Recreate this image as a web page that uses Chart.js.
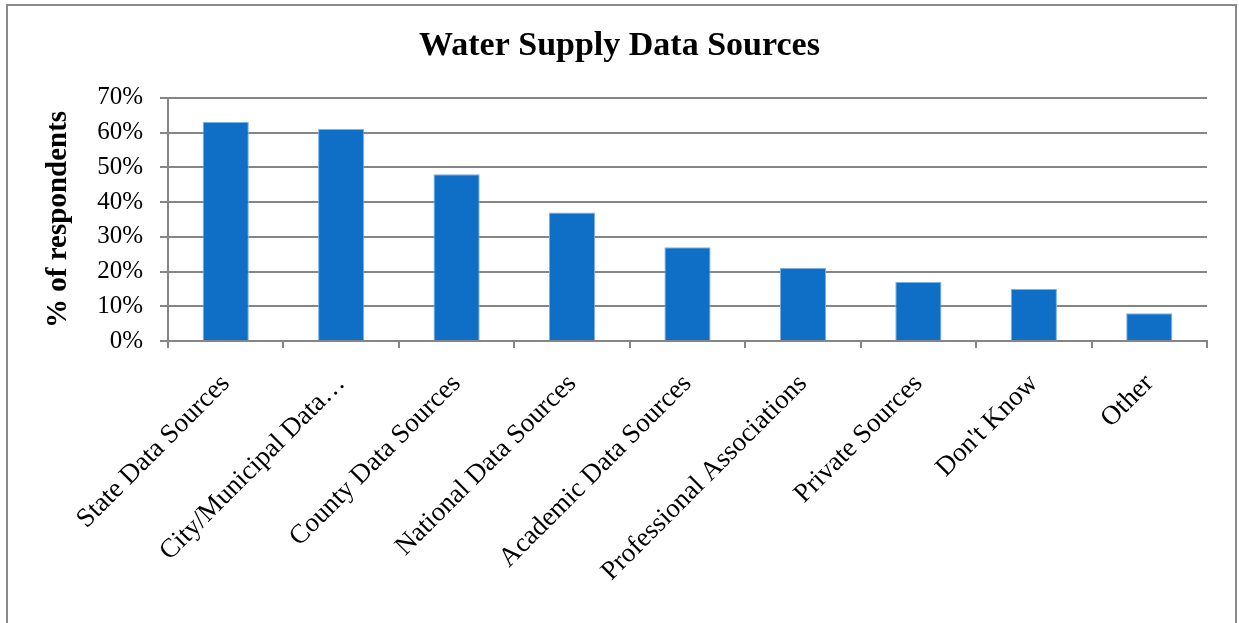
<!DOCTYPE html>
<html>
<head>
<meta charset="utf-8">
<title>Water Supply Data Sources</title>
<script src="https://cdn.jsdelivr.net/npm/chart.js@4/dist/chart.umd.min.js"></script>
<style>
  html, body { margin: 0; padding: 0; background: #ffffff; }
  canvas { display: block; }
</style>
</head>
<body>
<canvas id="chart" width="1239" height="623"></canvas>
<script>
// Survey answers: share of respondents using each data source
const categories = [
  'State Data Sources',
  'City/Municipal Data\u2026',
  'County Data Sources',
  'National Data Sources',
  'Academic Data Sources',
  'Professional Associations',
  'Private Sources',
  "Don't Know",
  'Other'
];
const percentRespondents = [63, 61, 48, 37, 27, 21, 17, 15, 8];
const yTickValues = [0, 10, 20, 30, 40, 50, 60, 70];

const SERIF = '"Liberation Serif", "Times New Roman", serif';
const AXIS_GRAY = '#858585';

// Frame drawn around the whole chart
const framePlugin = {
  id: 'frame',
  beforeDraw(chart) {
    const ctx = chart.ctx;
    ctx.save();
    ctx.fillStyle = '#ffffff';
    ctx.fillRect(0, 0, chart.width, chart.height);
    ctx.strokeStyle = '#8a8a8a';
    ctx.lineWidth = 2;
    ctx.strokeRect(7, 5, 1229, 700);
    ctx.restore();
  }
};

new Chart(document.getElementById('chart'), {
  type: 'bar',
  data: {
    labels: categories,
    datasets: [{
      data: percentRespondents,
      backgroundColor: '#0F6FC6',
      borderColor: '#7DB0E4',
      borderWidth: 1,
      borderSkipped: 'bottom',
      barPercentage: 0.4,
      categoryPercentage: 1.0
    }]
  },
  options: {
    responsive: false,
    animation: false,
    layout: { padding: 0 },
    plugins: {
      legend: { display: false },
      tooltip: { enabled: false },
      title: {
        display: true,
        text: 'Water Supply Data Sources',
        color: '#000000',
        font: { family: SERIF, size: 34, weight: 'bold' },
        padding: { top: 26, bottom: 31 }
      }
    },
    scales: {
      x: {
        grid: {
          display: true,
          drawOnChartArea: false,
          drawTicks: true,
          tickLength: 7,
          color: AXIS_GRAY,
          lineWidth: 2
        },
        border: { display: true, color: AXIS_GRAY, width: 2 },
        ticks: {
          autoSkip: false,
          maxRotation: 45,
          minRotation: 45,
          padding: 20,
          color: '#000000',
          font: { family: SERIF, size: 27 }
        },
        afterFit(scale) { scale.height = 623 - 341; }
      },
      y: {
        min: yTickValues[0],
        max: yTickValues[yTickValues.length - 1],
        afterBuildTicks(scale) {
          scale.ticks = yTickValues.map(v => ({ value: v }));
        },
        grid: {
          color: AXIS_GRAY,
          lineWidth: 2,
          drawTicks: true,
          tickLength: 8
        },
        border: { display: true, color: AXIS_GRAY, width: 2 },
        ticks: {
          padding: 17,
          color: '#000000',
          font: { family: SERIF, size: 25 },
          callback: v => v + '%'
        },
        title: {
          display: true,
          text: '% of respondents',
          color: '#000000',
          font: { family: SERIF, size: 29, weight: 'bold' },
          padding: { top: 41, bottom: 0 }
        },
        afterFit(scale) { scale.width = 168; }
      },
      // empty margin on the right side of the plot
      gutter: {
        position: 'right',
        display: true,
        grid: { display: false },
        border: { display: false },
        ticks: { display: false },
        afterFit(scale) { scale.width = 32; }
      }
    }
  },
  plugins: [framePlugin]
});
</script>
</body>
</html>
